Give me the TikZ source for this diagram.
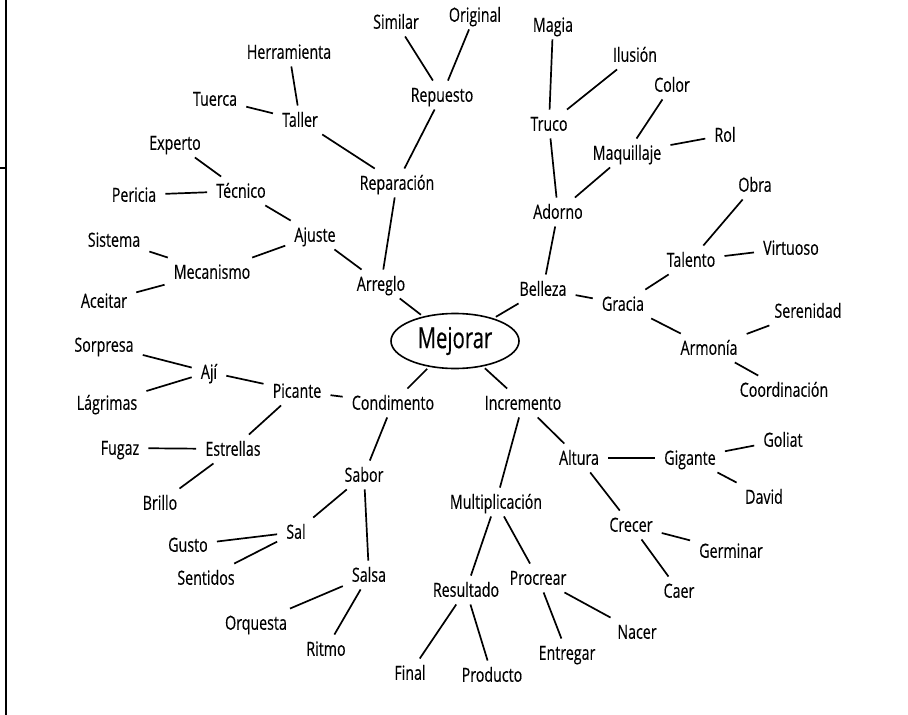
\documentclass[tikz,border=0pt]{standalone}
\usepackage{fontspec}
\setmainfont[FakeStretch=0.73,FakeBold=0.35]{Open Sans}
\newfontfamily\bigfont[FakeStretch=0.70,FakeBold=0.3]{Open Sans}
\usetikzlibrary{shapes.geometric}
\begin{document}
\begin{tikzpicture}[x=1pt,y=-1pt,
  w/.style={font=\fontsize{19.5}{19.5}\selectfont, inner xsep=9pt, inner ysep=7.5pt, text height=13.5pt, text depth=0pt},
  link/.style={line width=1.7pt}]
\useasboundingbox (0,0) rectangle (908,715);
\draw[line width=1.8pt] (6,0) -- (6,715);
\draw[line width=1.5pt] (0,168) -- (6,168);
\node[ellipse, draw, line width=1.6pt, minimum width=128pt, minimum height=55pt, inner sep=0pt, outer sep=3pt,
  font=\bigfont\fontsize{29}{29}\selectfont] (mej) at (455,341) {Mejorar};
\node[w] (sim) at (396,22) {Similar};
\node[w] (ori) at (475,15) {Original};
\node[w] (her) at (289,52) {Herramienta};
\node[w] (rep) at (442,95) {Repuesto};
\node[w] (mag) at (553,25) {Magia};
\node[w] (ilu) at (635,55) {Ilusión};
\node[w] (col) at (672,85) {Color};
\node[w] (tue) at (215,99) {Tuerca};
\node[w] (tal) at (300,120) {Taller};
\node[w] (tru) at (549,124) {Truco};
\node[w] (maq) at (627,153) {Maquillaje};
\node[w] (rol) at (725,135) {Rol};
\node[w] (exp) at (175,143) {Experto};
\node[w] (tec) at (241,191) {Técnico};
\node[w] (per) at (134,195) {Pericia};
\node[w] (rpc) at (397,183) {Reparación};
\node[w] (ado) at (558,212) {Adorno};
\node[w] (obr) at (755,185) {Obra};
\node[w] (sis) at (114,240) {Sistema};
\node[w] (aju) at (315,235) {Ajuste};
\node[w] (mec) at (212,272) {Mecanismo};
\node[w] (tlt) at (691,260) {Talento};
\node[w] (vir) at (791,248) {Virtuoso};
\node[w] (ace) at (104,301) {Aceitar};
\node[w] (arr) at (381,284) {Arreglo};
\node[w] (bel) at (543,289) {Belleza};
\node[w] (gra) at (623,304) {Gracia};
\node[w] (ser) at (808,311) {Serenidad};
\node[w] (arm) at (709,348) {Armonía};
\node[w] (sor) at (104,345) {Sorpresa};
\node[w] (aji) at (209,372) {Ají};
\node[w] (coo) at (784,390) {Coordinación};
\node[w] (lag) at (107,403) {Lágrimas};
\node[w] (pic) at (297,391) {Picante};
\node[w] (con) at (393,403) {Condimento};
\node[w] (inc) at (523,403) {Incremento};
\node[w] (fug) at (120,448) {Fugaz};
\node[w] (est) at (233,449) {Estrellas};
\node[w] (alt) at (579,458) {Altura};
\node[w] (gig) at (690,458) {Gigante};
\node[w] (gol) at (783,440) {Goliat};
\node[w] (sab) at (364,475) {Sabor};
\node[w] (bri) at (160,503) {Brillo};
\node[w] (dav) at (764,497) {David};
\node[w] (mul) at (496,502) {Multiplicación};
\node[w] (sal) at (296,532) {Sal};
\node[w] (cre) at (631,525) {Crecer};
\node[w] (ger) at (731,551) {Germinar};
\node[w] (gus) at (188,545) {Gusto};
\node[w] (sen) at (206,578) {Sentidos};
\node[w] (sls) at (369,575) {Salsa};
\node[w] (pro) at (538,578) {Procrear};
\node[w] (res) at (466,590) {Resultado};
\node[w] (cae) at (679,591) {Caer};
\node[w] (orq) at (256,623) {Orquesta};
\node[w] (nac) at (637,632) {Nacer};
\node[w] (rit) at (326,649) {Ritmo};
\node[w] (ent) at (567,653) {Entregar};
\node[w] (fin) at (410,673) {Final};
\node[w] (prd) at (492,675) {Producto};
\foreach \a/\b in {mej/arr,mej/bel,mej/con,mej/inc,
  arr/rpc,arr/aju,rpc/tal,rpc/rep,rep/sim,rep/ori,tal/her,tal/tue,
  aju/tec,aju/mec,tec/exp,tec/per,mec/sis,mec/ace,
  bel/ado,bel/gra,ado/tru,ado/maq,tru/mag,tru/ilu,maq/col,maq/rol,
  gra/tlt,gra/arm,tlt/obr,tlt/vir,arm/ser,arm/coo,
  con/pic,con/sab,pic/aji,pic/est,aji/sor,aji/lag,est/fug,est/bri,
  sab/sal,sab/sls,sal/gus,sal/sen,sls/orq,sls/rit,
  inc/mul,inc/alt,mul/res,mul/pro,res/fin,res/prd,pro/ent,pro/nac,
  alt/gig,alt/cre,gig/gol,gig/dav,cre/ger,cre/cae}
  \draw[link] (\a) -- (\b);
\end{tikzpicture}
\end{document}
